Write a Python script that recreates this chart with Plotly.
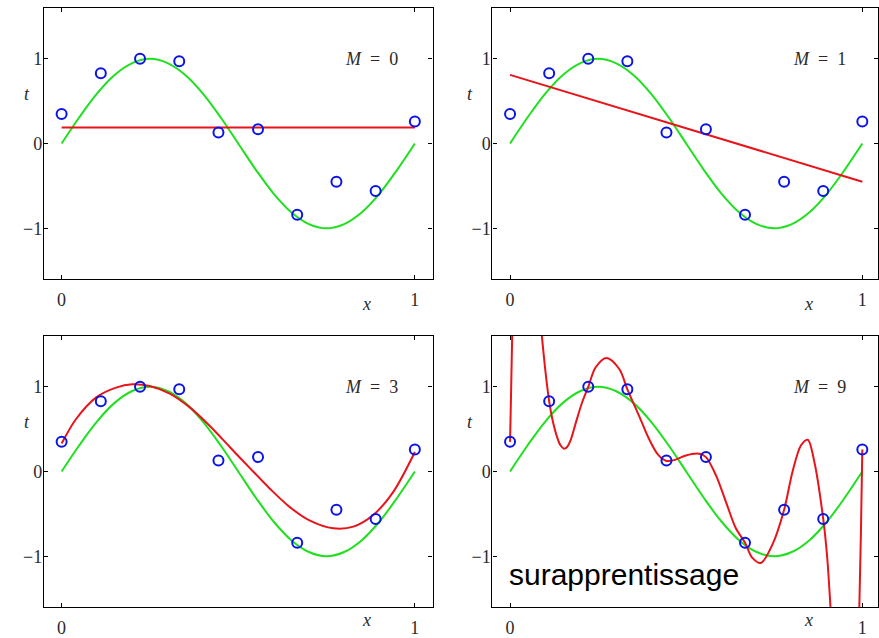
import plotly.graph_objects as go

# ---------------- data ----------------
x_points = [0.0, 0.111, 0.222, 0.333, 0.444, 0.556, 0.667, 0.778, 0.889, 1.0]
t_points = [0.35, 0.83, 1.00, 0.97, 0.13, 0.17, -0.84, -0.45, -0.56, 0.26]

x_sine = [0.0, 0.05, 0.10, 0.15, 0.20, 0.25, 0.30, 0.35, 0.40, 0.45, 0.50,
          0.55, 0.60, 0.65, 0.70, 0.75, 0.80, 0.85, 0.90, 0.95, 1.0]
t_sine = [0.0, 0.31, 0.59, 0.81, 0.95, 1.0, 0.95, 0.81, 0.59, 0.31, 0.0,
          -0.31, -0.59, -0.81, -0.95, -1.0, -0.95, -0.81, -0.59, -0.31, 0.0]

x_m0 = [0.0, 1.0]
t_m0 = [0.19, 0.19]

x_m1 = [0.0, 1.0]
t_m1 = [0.81, -0.45]

x_m3 = [0.0, 0.041, 0.098, 0.154, 0.2, 0.249, 0.306, 0.362, 0.419, 0.476,
        0.533, 0.589, 0.646, 0.703, 0.769, 0.826, 0.883, 0.939, 1.0]
t_m3 = [0.33, 0.62, 0.875, 0.99, 1.03, 1.01, 0.92, 0.76, 0.54, 0.29,
        0.04, -0.20, -0.42, -0.58, -0.67, -0.65, -0.51, -0.24, 0.23]

x_m9 = [0.0, 0.003, 0.0065, None,
        0.088, 0.1, 0.111, 0.12, 0.134, 0.143, 0.153, 0.162, 0.172, 0.187, 0.205,
        0.222, 0.243, 0.274, 0.31, 0.333, 0.366, 0.395, 0.42, 0.444, 0.47, 0.499,
        0.537, 0.556, 0.584, 0.613, 0.641, 0.667, 0.688, 0.712, 0.745, 0.778,
        0.802, 0.826, 0.845, 0.864, 0.889, 0.90, 0.911, None,
        0.991, 0.996, 1.0]
t_m9 = [0.35, 0.95, 1.7, None,
        1.7, 1.2, 0.83, 0.62, 0.40, 0.31, 0.27, 0.29, 0.37, 0.58, 0.82,
        1.0, 1.23, 1.34, 1.21, 0.97, 0.66, 0.38, 0.2, 0.125, 0.14, 0.19,
        0.21, 0.17, -0.04, -0.36, -0.67, -0.84, -1.02, -1.08, -0.86, -0.45,
        0.0, 0.31, 0.375, 0.11, -0.56, -1.0, -1.7, None,
        -1.7, -0.72, 0.26]

panel_labels = ["M = 0", "M = 1", "M = 3", "M = 9"]
x_ticks = [0, 1]
y_ticks = [-1, 0, 1]
x_tick_text = ["0", "1"]
y_tick_text = ["\u22121", "0", "1"]

fits = [(x_m0, t_m0), (x_m1, t_m1), (x_m3, t_m3), (x_m9, t_m9)]

# ---------------- style / layout ----------------
W, H = 879, 638
GREEN = "#1fe01f"
RED = "#e8141a"
BLUE = "#0a14e6"
SERIF = "Liberation Serif, DejaVu Serif, serif"
TXT = "#2a2a2a"

# frames in pixels: (left, right, top, bottom)
frames = [(44, 433, 8, 280), (493, 879, 8, 280),
          (44, 433, 337, 609), (493, 879, 337, 609)]
x_ranges = [[-0.05, 1.05], [-0.05, 1.0445], [-0.05, 1.05], [-0.05, 1.0445]]

fig = go.Figure()

for i in range(4):
    sfx = "" if i == 0 else str(i + 1)
    xa, ya = "x" + sfx, "y" + sfx
    fig.add_trace(go.Scatter(x=x_sine, y=t_sine, mode="lines",
                             line=dict(color=GREEN, width=2, shape="spline"),
                             xaxis=xa, yaxis=ya, showlegend=False))
    fx, ft = fits[i]
    fig.add_trace(go.Scatter(x=fx, y=ft, mode="lines", connectgaps=False,
                             line=dict(color=RED, width=2, shape="spline", smoothing=0.9),
                             xaxis=xa, yaxis=ya, showlegend=False))
    fig.add_trace(go.Scatter(x=x_points, y=t_points, mode="markers",
                             marker=dict(symbol="circle-open", size=10, color=BLUE,
                                         line=dict(width=2, color=BLUE)),
                             xaxis=xa, yaxis=ya, showlegend=False))

    l, r, t, b = frames[i]
    axis_common = dict(showline=True, linecolor="black", linewidth=1.2, mirror="ticks",
                       ticks="inside", ticklen=4, tickwidth=1, tickcolor="black",
                       showgrid=False, zeroline=False,
                       tickfont=dict(family=SERIF, size=18, color=TXT))
    fig.layout["xaxis" + sfx] = dict(domain=[l / W, min(r / W, 1.0)], range=x_ranges[i],
                                     anchor=ya, tickvals=x_ticks, ticktext=x_tick_text,
                                     ticklabelstandoff=4, **axis_common)
    fig.layout["yaxis" + sfx] = dict(domain=[1 - b / H, 1 - t / H], range=[-1.6, 1.6],
                                     anchor=xa, tickvals=y_ticks, ticktext=y_tick_text,
                                     ticklabelstandoff=-3, **axis_common)

    # M = k label
    name, num = panel_labels[i].split(" = ")
    fig.add_annotation(x=0.878, y=1.0, xref=xa, yref=ya, showarrow=False,
                       text="<i>" + name + "</i>\u2002=\u2002" + num,
                       font=dict(family=SERIF, size=18, color=TXT))
    # axis letters
    fig.add_annotation(x=(l - 22) / W, y=0.59, xref="paper", yref=ya,
                       showarrow=False, text="<i>t</i>",
                       font=dict(family=SERIF, size=18, color=TXT))
    fig.add_annotation(x=(l + 323) / W, y=1 - (b + 25) / H, xref="paper", yref="paper",
                       showarrow=False, text="<i>x</i>",
                       font=dict(family=SERIF, size=18, color=TXT))

fig.add_annotation(x=508 / W, y=1 - 576 / H, xref="paper", yref="paper",
                   xanchor="left", yanchor="middle", showarrow=False,
                   text="surapprentissage",
                   font=dict(family="Liberation Sans, Arial, sans-serif", size=30, color="black"))

fig.update_layout(width=W, height=H, margin=dict(l=0, r=0, t=0, b=0),
                  paper_bgcolor="white", plot_bgcolor="white")

fig.write_html("out.html", config={"displayModeBar": False},
               post_script="document.body.style.margin='0px';"
                           "document.body.style.overflow='hidden';")
